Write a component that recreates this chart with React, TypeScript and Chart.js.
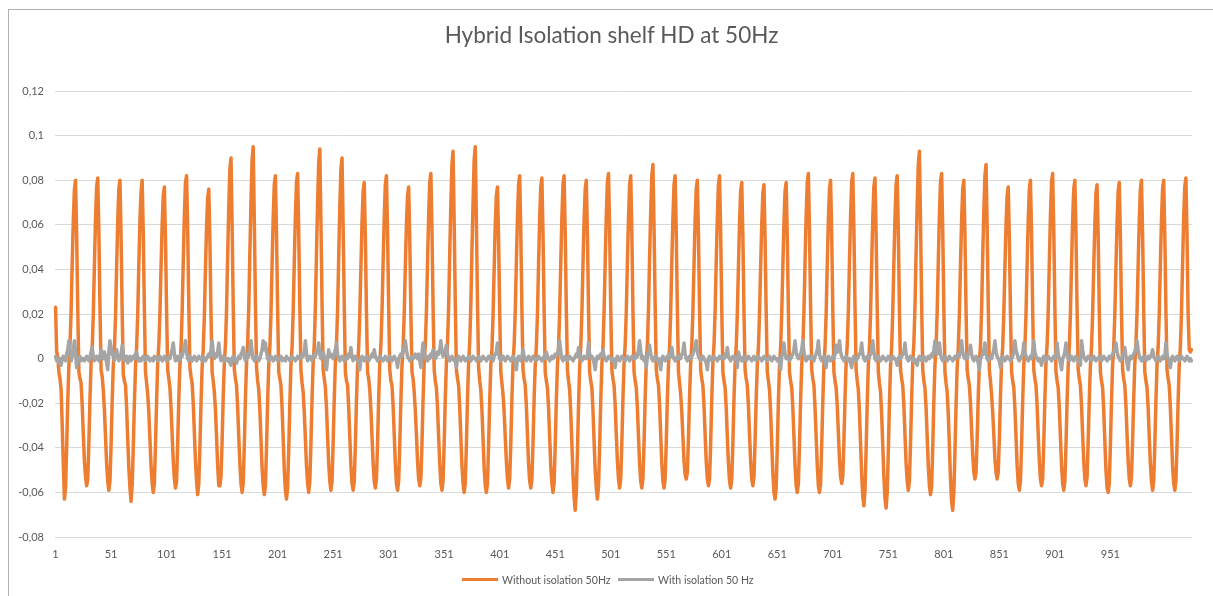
import React, { useEffect, useRef } from 'react';
import { Chart, registerables } from 'chart.js';

Chart.register(...registerables);

const chartTitle = 'Hybrid Isolation shelf HD at 50Hz';
const seriesNames = ['Without isolation 50Hz', 'With isolation 50 Hz'];
const seriesColors = ['#ED7D31', '#A5A5A5'];

// Orange series: acceleration without isolation (one value per sample)
const withoutIsolation = [
  0.023,0.003,0.001,-0.006,-0.009,-0.014,-0.030,-0.048,
  -0.063,-0.058,-0.040,-0.019,-0.003,0.006,0.021,0.043,0.062,0.076,0.080,0.056,0.022,-0.006,-0.009,-0.011,-0.021,-0.034,-0.046,-0.053,
  -0.057,-0.054,-0.038,-0.018,-0.002,0.005,0.020,0.042,0.063,0.077,0.081,0.057,0.023,-0.005,-0.008,-0.014,-0.023,-0.035,-0.047,-0.055,
  -0.059,-0.055,-0.039,-0.019,-0.003,0.004,0.019,0.041,0.062,0.076,0.080,0.055,0.021,-0.007,-0.010,-0.012,-0.022,-0.036,-0.049,-0.058,
  -0.064,-0.057,-0.040,-0.020,-0.004,0.005,0.020,0.042,0.062,0.075,0.080,0.056,0.022,-0.006,-0.011,-0.016,-0.024,-0.036,-0.048,-0.056,
  -0.060,-0.056,-0.039,-0.019,-0.002,0.006,0.020,0.041,0.060,0.073,0.077,0.054,0.021,-0.005,-0.009,-0.013,-0.022,-0.034,-0.046,-0.054,
  -0.058,-0.055,-0.038,-0.018,-0.003,0.005,0.021,0.043,0.064,0.079,0.082,0.058,0.024,-0.004,-0.008,-0.011,-0.020,-0.033,-0.046,-0.055,
  -0.061,-0.056,-0.040,-0.020,-0.004,0.004,0.019,0.040,0.059,0.072,0.076,0.053,0.020,-0.006,-0.010,-0.015,-0.023,-0.035,-0.048,-0.057,
  -0.057,-0.053,-0.037,-0.017,-0.002,0.006,0.022,0.046,0.068,0.085,0.090,0.060,0.024,-0.005,-0.009,-0.012,-0.022,-0.035,-0.047,-0.056,
  -0.060,-0.056,-0.039,-0.018,-0.002,0.007,0.023,0.047,0.070,0.089,0.095,0.062,0.025,-0.004,-0.010,-0.014,-0.023,-0.036,-0.049,-0.057,
  -0.061,-0.057,-0.040,-0.019,-0.003,0.005,0.020,0.042,0.063,0.078,0.082,0.056,0.022,-0.006,-0.009,-0.012,-0.022,-0.036,-0.050,-0.059,
  -0.063,-0.058,-0.041,-0.020,-0.003,0.005,0.021,0.043,0.064,0.079,0.083,0.057,0.023,-0.005,-0.011,-0.015,-0.024,-0.036,-0.048,-0.056,
  -0.060,-0.055,-0.038,-0.018,-0.002,0.006,0.023,0.047,0.070,0.088,0.094,0.061,0.025,-0.005,-0.009,-0.013,-0.022,-0.035,-0.047,-0.055,
  -0.059,-0.055,-0.038,-0.018,-0.002,0.006,0.022,0.045,0.068,0.085,0.090,0.059,0.024,-0.006,-0.010,-0.012,-0.022,-0.035,-0.048,-0.056,
  -0.059,-0.055,-0.039,-0.019,-0.003,0.005,0.020,0.041,0.061,0.075,0.079,0.055,0.021,-0.006,-0.009,-0.014,-0.023,-0.035,-0.047,-0.055,
  -0.058,-0.054,-0.038,-0.018,-0.002,0.006,0.021,0.043,0.063,0.078,0.082,0.057,0.023,-0.005,-0.010,-0.012,-0.021,-0.034,-0.047,-0.056,
  -0.059,-0.055,-0.039,-0.019,-0.003,0.005,0.020,0.041,0.060,0.073,0.077,0.054,0.021,-0.006,-0.009,-0.015,-0.023,-0.034,-0.046,-0.054,
  -0.057,-0.054,-0.038,-0.018,-0.002,0.006,0.021,0.043,0.064,0.079,0.083,0.058,0.023,-0.005,-0.010,-0.013,-0.022,-0.035,-0.047,-0.056,
  -0.059,-0.055,-0.038,-0.018,-0.002,0.007,0.023,0.047,0.069,0.087,0.093,0.061,0.025,-0.005,-0.009,-0.012,-0.022,-0.035,-0.048,-0.056,
  -0.060,-0.056,-0.039,-0.018,-0.002,0.007,0.024,0.048,0.070,0.089,0.095,0.062,0.025,-0.004,-0.010,-0.014,-0.023,-0.036,-0.049,-0.057,
  -0.060,-0.056,-0.039,-0.019,-0.003,0.004,0.019,0.040,0.060,0.073,0.077,0.054,0.021,-0.006,-0.011,-0.016,-0.024,-0.035,-0.046,-0.054,
  -0.058,-0.054,-0.038,-0.018,-0.002,0.006,0.021,0.043,0.063,0.078,0.082,0.057,0.022,-0.005,-0.009,-0.012,-0.021,-0.034,-0.047,-0.055,
  -0.058,-0.054,-0.038,-0.018,-0.003,0.005,0.020,0.042,0.063,0.077,0.081,0.056,0.022,-0.006,-0.010,-0.013,-0.022,-0.035,-0.048,-0.056,
  -0.060,-0.056,-0.039,-0.019,-0.003,0.005,0.021,0.043,0.063,0.078,0.082,0.057,0.022,-0.005,-0.010,-0.014,-0.024,-0.038,-0.052,-0.062,
  -0.068,-0.060,-0.042,-0.021,-0.004,0.005,0.020,0.042,0.062,0.076,0.080,0.056,0.022,-0.006,-0.010,-0.013,-0.023,-0.037,-0.050,-0.058,
  -0.063,-0.057,-0.040,-0.019,-0.003,0.005,0.021,0.043,0.064,0.079,0.083,0.058,0.023,-0.005,-0.009,-0.012,-0.021,-0.034,-0.046,-0.054,
  -0.058,-0.054,-0.038,-0.018,-0.002,0.006,0.021,0.043,0.063,0.078,0.082,0.057,0.022,-0.006,-0.010,-0.013,-0.022,-0.035,-0.047,-0.055,
  -0.058,-0.054,-0.038,-0.018,-0.002,0.006,0.022,0.045,0.066,0.082,0.087,0.059,0.024,-0.005,-0.009,-0.012,-0.021,-0.034,-0.047,-0.055,
  -0.058,-0.054,-0.038,-0.018,-0.003,0.005,0.021,0.043,0.063,0.078,0.082,0.057,0.022,-0.006,-0.011,-0.016,-0.024,-0.035,-0.046,-0.052,
  -0.054,-0.051,-0.036,-0.017,-0.002,0.006,0.021,0.042,0.062,0.076,0.080,0.056,0.022,-0.005,-0.009,-0.012,-0.021,-0.034,-0.046,-0.054,
  -0.057,-0.054,-0.038,-0.018,-0.002,0.006,0.021,0.043,0.063,0.078,0.082,0.057,0.022,-0.006,-0.010,-0.013,-0.022,-0.035,-0.047,-0.055,
  -0.058,-0.054,-0.038,-0.018,-0.003,0.005,0.020,0.041,0.061,0.075,0.079,0.055,0.021,-0.005,-0.009,-0.012,-0.021,-0.034,-0.046,-0.054,
  -0.057,-0.053,-0.037,-0.018,-0.003,0.005,0.020,0.041,0.060,0.074,0.078,0.054,0.021,-0.006,-0.010,-0.014,-0.024,-0.038,-0.051,-0.060,
  -0.063,-0.058,-0.040,-0.019,-0.003,0.005,0.020,0.041,0.061,0.075,0.079,0.055,0.021,-0.006,-0.010,-0.013,-0.022,-0.035,-0.048,-0.057,
  -0.060,-0.056,-0.039,-0.019,-0.003,0.005,0.021,0.043,0.064,0.079,0.083,0.058,0.023,-0.005,-0.009,-0.012,-0.022,-0.035,-0.048,-0.057,
  -0.060,-0.056,-0.039,-0.019,-0.003,0.005,0.020,0.042,0.062,0.076,0.080,0.056,0.022,-0.006,-0.010,-0.013,-0.021,-0.033,-0.045,-0.053,
  -0.056,-0.053,-0.037,-0.018,-0.002,0.006,0.021,0.043,0.064,0.079,0.083,0.058,0.023,-0.005,-0.010,-0.014,-0.024,-0.038,-0.052,-0.062,
  -0.066,-0.059,-0.041,-0.020,-0.003,0.005,0.020,0.042,0.063,0.077,0.081,0.056,0.022,-0.006,-0.011,-0.015,-0.025,-0.039,-0.053,-0.063,
  -0.067,-0.060,-0.042,-0.020,-0.003,0.005,0.021,0.043,0.063,0.078,0.082,0.057,0.022,-0.005,-0.009,-0.012,-0.021,-0.034,-0.047,-0.055,
  -0.059,-0.055,-0.038,-0.018,-0.002,0.007,0.023,0.047,0.069,0.087,0.093,0.061,0.025,-0.005,-0.010,-0.013,-0.022,-0.035,-0.048,-0.057,
  -0.061,-0.057,-0.040,-0.019,-0.003,0.005,0.021,0.043,0.064,0.079,0.083,0.058,0.023,-0.006,-0.011,-0.015,-0.025,-0.039,-0.054,-0.064,
  -0.068,-0.060,-0.042,-0.021,-0.004,0.005,0.020,0.042,0.062,0.076,0.080,0.056,0.022,-0.005,-0.009,-0.012,-0.020,-0.032,-0.043,-0.051,
  -0.054,-0.051,-0.036,-0.017,-0.002,0.006,0.022,0.045,0.066,0.082,0.087,0.059,0.024,-0.005,-0.010,-0.016,-0.024,-0.034,-0.045,-0.051,
  -0.054,-0.051,-0.036,-0.017,-0.002,0.005,0.020,0.041,0.060,0.073,0.077,0.054,0.021,-0.006,-0.010,-0.013,-0.022,-0.035,-0.048,-0.056,
  -0.059,-0.055,-0.039,-0.019,-0.003,0.005,0.020,0.042,0.062,0.076,0.080,0.056,0.022,-0.005,-0.009,-0.012,-0.021,-0.034,-0.046,-0.054,
  -0.057,-0.054,-0.038,-0.018,-0.002,0.006,0.021,0.043,0.064,0.079,0.083,0.058,0.023,-0.006,-0.010,-0.013,-0.022,-0.035,-0.048,-0.056,
  -0.059,-0.055,-0.039,-0.019,-0.003,0.005,0.020,0.042,0.062,0.076,0.080,0.056,0.022,-0.005,-0.009,-0.012,-0.021,-0.034,-0.046,-0.054,
  -0.057,-0.053,-0.037,-0.018,-0.003,0.005,0.020,0.041,0.060,0.074,0.078,0.055,0.021,-0.006,-0.010,-0.013,-0.023,-0.037,-0.050,-0.058,
  -0.060,-0.056,-0.039,-0.019,-0.003,0.005,0.020,0.041,0.061,0.075,0.079,0.055,0.021,-0.005,-0.009,-0.012,-0.021,-0.034,-0.046,-0.054,
  -0.057,-0.053,-0.037,-0.018,-0.002,0.006,0.021,0.042,0.062,0.076,0.080,0.056,0.022,-0.006,-0.010,-0.013,-0.022,-0.035,-0.047,-0.055,
  -0.059,-0.055,-0.039,-0.019,-0.003,0.005,0.020,0.042,0.062,0.076,0.080,0.056,0.022,-0.005,-0.009,-0.012,-0.022,-0.035,-0.048,-0.056,
  -0.059,-0.055,-0.039,-0.019,-0.003,0.005,0.020,0.042,0.063,0.077,0.081,0.056,0.020,0.004,0.003,0.004,
];

// Grey series: acceleration with isolation (one value per sample)
const withIsolation = [
  0.001,-0.001,0.000,-0.002,0.000,-0.003,0.000,0.001,0.000,-0.001,0.002,0.004,0.008,0.002,-0.001,0.001,0.004,0.008,0.003,-0.004,
  -0.001,0.000,0.001,-0.001,0.000,0.000,-0.001,0.000,0.001,0.000,-0.001,0.001,0.003,0.005,0.001,-0.001,0.000,0.001,0.000,-0.001,
  0.001,0.004,0.002,0.000,0.003,0.001,-0.002,-0.005,0.003,0.008,0.005,0.002,0.001,-0.001,0.002,0.004,0.001,-0.001,0.000,0.002,
  0.006,0.002,-0.001,0.000,0.001,-0.002,0.000,0.001,-0.001,0.000,0.001,0.000,0.002,0.003,0.000,-0.001,0.000,-0.001,0.000,0.001,
  0.000,-0.001,0.000,0.001,0.000,-0.001,0.000,0.000,-0.001,0.001,0.000,0.000,-0.001,0.000,0.001,0.000,-0.001,0.000,0.001,0.000,
  -0.001,0.000,0.001,0.000,0.002,0.004,0.007,0.002,-0.001,0.000,0.001,-0.001,0.000,0.002,0.001,0.003,0.005,0.008,0.003,0.000,
  -0.001,0.001,0.000,-0.001,0.000,0.001,0.000,-0.001,0.000,0.001,0.000,0.000,-0.001,0.001,0.000,-0.001,0.000,0.001,0.002,0.001,
  0.004,0.008,0.003,0.000,0.002,0.001,0.003,0.007,0.002,-0.001,0.000,0.001,-0.001,0.000,0.000,-0.001,0.000,-0.002,-0.003,0.000,
  0.001,0.000,-0.001,-0.002,0.000,0.001,0.000,0.002,0.003,0.005,0.001,-0.001,0.000,0.002,0.001,0.004,0.008,0.003,0.000,-0.001,
  0.000,0.001,0.000,-0.001,0.000,0.002,0.004,0.008,0.004,0.007,0.003,0.000,-0.001,0.000,0.001,0.000,-0.001,0.000,0.001,0.000,
  -0.001,0.000,0.000,0.001,-0.001,0.000,0.000,-0.001,0.001,0.000,0.000,-0.001,0.000,0.001,0.000,0.000,-0.001,0.000,0.001,0.000,
  0.000,0.001,0.002,0.001,0.003,0.008,0.002,-0.001,0.000,0.001,0.000,-0.001,0.001,0.002,0.001,0.003,0.004,0.007,0.002,0.000,
  0.001,0.003,0.001,-0.002,-0.005,0.000,0.004,0.001,0.002,0.001,0.000,0.002,0.004,0.007,0.002,0.000,-0.001,0.000,0.001,0.000,
  -0.001,0.000,0.001,0.000,0.002,0.001,0.005,0.001,-0.001,0.000,0.001,0.000,-0.001,-0.002,-0.005,0.000,0.001,0.000,-0.001,0.000,
  0.001,0.000,-0.001,0.000,0.001,0.002,0.001,0.004,0.001,0.000,-0.001,0.000,0.001,0.000,0.000,-0.001,0.000,0.001,0.000,-0.001,
  0.000,0.001,0.000,-0.001,0.000,0.001,0.000,-0.001,-0.004,0.000,0.001,0.002,0.001,0.003,0.005,0.008,0.004,0.001,0.000,-0.001,
  0.000,0.001,0.000,0.001,0.002,0.001,0.000,0.002,-0.001,-0.004,0.002,0.007,0.003,0.001,0.000,-0.001,0.001,0.000,0.002,0.001,
  0.004,0.002,0.000,0.001,0.003,0.002,0.004,0.008,0.003,0.001,0.002,0.004,0.006,0.002,0.000,-0.001,0.000,0.001,0.000,-0.001,
  -0.001,-0.004,0.000,0.001,0.000,-0.001,0.000,0.001,0.000,-0.001,0.000,0.000,0.001,0.000,-0.001,0.000,0.001,0.000,0.000,-0.001,
  0.000,0.001,0.000,-0.001,0.000,0.001,0.000,0.000,-0.001,0.000,0.001,0.000,0.001,0.000,-0.001,0.001,0.002,0.003,0.007,0.002,
  0.000,-0.001,0.000,0.001,0.000,-0.001,0.000,0.001,0.000,0.000,-0.001,0.000,0.001,0.000,-0.002,-0.005,0.000,0.001,0.000,-0.001,
  0.001,0.004,0.001,0.000,-0.001,0.000,0.001,0.000,-0.001,0.000,0.001,0.000,0.000,-0.001,0.000,0.001,0.000,0.000,-0.001,0.000,
  0.001,0.000,0.003,0.001,0.000,-0.001,0.000,0.001,0.000,0.001,0.002,0.001,0.002,0.004,0.008,0.003,0.000,-0.001,0.000,0.001,
  0.000,-0.001,0.000,0.001,0.000,0.000,-0.001,0.000,0.001,0.002,0.001,0.005,0.001,0.000,-0.001,0.000,0.001,0.000,0.000,0.001,
  0.007,0.002,0.000,0.001,0.000,-0.002,-0.005,0.000,0.001,0.000,0.001,0.002,0.001,0.004,0.001,0.000,-0.001,0.000,0.001,0.000,
  0.000,-0.001,0.000,-0.002,-0.004,0.000,0.001,0.000,-0.001,0.000,0.001,0.000,0.000,-0.001,0.000,0.001,0.000,-0.001,0.000,0.001,
  0.000,0.001,0.000,0.002,0.001,0.004,0.008,0.003,0.000,0.001,-0.001,0.000,-0.004,0.001,0.003,0.006,0.002,0.000,-0.001,0.000,
  0.001,0.000,-0.001,0.000,-0.002,-0.005,0.000,0.001,0.000,-0.001,0.000,0.001,0.000,0.002,0.001,0.005,0.001,0.000,-0.001,0.000,
  0.001,0.000,0.001,0.000,0.002,0.003,0.007,0.002,0.000,-0.001,0.000,0.001,0.000,0.001,0.002,0.004,0.005,0.008,0.003,0.001,
  0.000,-0.001,0.000,0.001,0.000,-0.001,-0.002,-0.005,0.000,0.001,0.000,-0.001,0.000,0.001,0.000,0.000,-0.001,0.000,0.001,0.000,
  0.000,0.001,0.000,0.002,0.001,0.005,0.001,0.000,-0.001,0.000,0.001,0.000,0.001,-0.001,-0.004,0.003,0.001,0.000,-0.001,0.000,
  0.001,0.000,-0.001,0.000,0.001,0.000,0.000,-0.001,0.000,0.001,0.000,-0.001,0.000,0.001,0.000,0.000,-0.001,0.000,0.001,0.000,
  0.000,-0.001,0.000,0.001,0.000,-0.001,0.000,0.001,0.000,0.000,-0.001,0.000,-0.002,-0.005,0.001,0.003,0.007,0.002,0.000,0.001,
  0.000,-0.001,0.000,0.001,0.002,0.004,0.008,0.003,0.001,0.000,0.001,0.002,0.004,0.008,0.003,0.000,-0.001,0.000,0.001,0.000,
  0.000,0.001,0.000,-0.001,0.001,0.002,0.004,0.008,0.002,0.000,-0.001,0.000,0.001,-0.001,-0.004,0.000,0.001,0.000,-0.001,0.000,
  0.001,0.000,0.002,0.006,0.003,0.004,0.008,0.003,0.001,0.000,-0.001,0.000,0.001,0.000,-0.001,0.000,-0.002,-0.004,0.000,0.001,
  0.000,-0.001,0.000,0.001,0.002,0.003,0.007,0.002,0.000,-0.001,0.000,0.001,0.000,0.001,0.002,0.004,0.008,0.003,0.000,-0.001,
  0.000,0.001,0.000,-0.001,0.000,0.001,0.000,0.000,-0.001,0.000,0.001,0.000,-0.001,0.000,0.001,0.000,0.000,-0.001,-0.003,0.000,
  0.001,0.000,0.001,0.002,0.003,0.007,0.002,0.000,-0.001,0.000,0.001,0.000,-0.001,0.000,-0.001,-0.002,-0.003,0.000,0.001,0.000,
  -0.001,0.000,0.001,0.000,-0.001,0.000,0.001,0.000,0.001,0.002,0.001,0.004,0.008,0.004,0.002,0.004,0.007,0.002,0.000,-0.001,
  0.000,0.001,0.000,-0.001,0.000,0.001,0.000,0.000,-0.001,0.000,0.001,0.000,0.001,0.002,0.001,0.004,0.008,0.003,0.001,0.000,
  0.001,0.000,0.002,0.003,0.006,0.002,0.000,-0.001,0.000,0.001,0.000,-0.002,-0.005,0.000,0.001,0.002,0.004,0.007,0.002,0.000,
  -0.001,0.000,0.001,0.000,0.002,0.004,0.008,0.003,0.001,0.000,-0.001,-0.004,0.000,0.001,0.000,-0.001,0.000,0.001,0.000,0.000,
  -0.001,0.000,0.001,0.003,0.008,0.004,0.002,0.000,-0.001,0.000,0.001,0.002,0.007,0.003,0.001,0.000,-0.001,0.000,0.001,0.000,
  0.003,0.008,0.003,0.001,0.000,-0.001,0.000,-0.001,-0.003,0.000,0.001,0.000,-0.001,0.000,0.001,0.000,0.000,-0.001,0.000,0.001,
  0.000,0.002,0.007,0.002,0.000,-0.002,-0.005,0.000,0.001,0.003,0.007,0.002,0.000,-0.001,0.000,0.001,0.000,-0.001,0.000,0.001,
  0.000,-0.001,-0.002,-0.003,0.008,0.004,0.001,0.000,-0.001,0.000,0.001,0.000,0.000,-0.001,0.000,0.001,0.000,-0.001,0.000,0.000,
  0.001,0.000,-0.001,0.000,0.001,0.000,0.000,-0.001,0.000,0.001,0.000,0.001,0.002,0.003,0.005,0.007,0.003,0.001,0.000,-0.001,
  0.000,0.001,0.002,0.005,0.001,-0.002,-0.005,0.000,0.001,0.000,0.001,0.002,0.003,0.005,0.008,0.004,0.001,0.000,-0.001,0.000,
  0.001,0.000,-0.001,0.000,0.001,0.000,0.001,0.002,0.004,0.001,0.000,-0.001,0.000,0.001,0.000,-0.001,0.000,0.001,0.000,0.001,
  0.007,0.002,0.000,-0.002,-0.004,0.000,0.001,0.000,-0.001,0.000,0.001,0.000,-0.001,0.000,0.001,0.000,0.000,-0.001,0.000,0.001,
  0.000,-0.001,0.000,-0.001,
];

// Category labels: sample numbers 1..N
const sampleLabels = withoutIsolation.map((_, i) => String(i + 1));
const xLabelStep = 50;
const xLabelLast = 951;
const yMin = -0.08;
const yMax = 0.12;
const yStep = 0.02;

const textColor = '#595959';
const gridColor = '#d9d9d9';
const fontFamily = 'Lato, "Open Sans", sans-serif';

function formatY(v: number): string {
  const r = Math.round(v * 100) / 100;
  if (r === 0) return '0';
  return String(r).replace('.', ',');
}

export default function App() {
  const canvasRef = useRef<HTMLCanvasElement | null>(null);

  useEffect(() => {
    const canvas = canvasRef.current;
    if (!canvas) return;
    const chart = new Chart(canvas, {
      type: 'line',
      data: {
        labels: sampleLabels,
        datasets: [
          {
            label: seriesNames[0],
            data: withoutIsolation,
            borderColor: seriesColors[0],
            backgroundColor: seriesColors[0],
            borderWidth: 3.5,
            pointRadius: 0,
            tension: 0,
            borderJoinStyle: 'round',
            borderCapStyle: 'round',
            order: 1,
          },
          {
            label: seriesNames[1],
            data: withIsolation,
            borderColor: seriesColors[1],
            backgroundColor: seriesColors[1],
            borderWidth: 3.5,
            pointRadius: 0,
            tension: 0,
            borderJoinStyle: 'round',
            borderCapStyle: 'round',
            order: 0,
          },
        ],
      },
      options: {
        responsive: false,
        animation: false,
        events: [],
        layout: { padding: { left: 0, right: 21, top: 91, bottom: 0 } },
        plugins: {
          legend: { display: false },
          title: { display: false },
          tooltip: { enabled: false },
        },
        scales: {
          x: {
            type: 'category',
            offset: true,
            grid: { display: false },
            border: { display: false },
            ticks: {
              autoSkip: false,
              maxRotation: 0,
              minRotation: 0,
              padding: 3,
              color: textColor,
              font: { family: fontFamily, size: 11 },
              callback: (_v: any, i: number) =>
                i % xLabelStep === 0 && i + 1 <= xLabelLast ? sampleLabels[i] : null,
            },
            afterFit: (s: any) => {
              s.height = 59;
            },
          },
          y: {
            min: yMin,
            max: yMax,
            grid: { color: gridColor, lineWidth: 1, drawTicks: false },
            border: { display: false },
            ticks: {
              stepSize: yStep,
              padding: 11,
              color: textColor,
              font: { family: fontFamily, size: 11 },
              callback: (v: any) => formatY(Number(v)),
            },
            afterFit: (s: any) => {
              s.width = 55;
            },
          },
        },
      },
    });
    return () => chart.destroy();
  }, []);

  const legendPos = [
    { swatch: 462, text: 502 },
    { swatch: 618, text: 658 },
  ];

  return (
    <div
      style={{
        position: 'absolute',
        left: 0,
        top: 0,
        width: 1213,
        height: 596,
        background: '#ffffff',
        overflow: 'hidden',
        fontFamily,
      }}
    >
      <div
        style={{
          position: 'absolute',
          left: 8,
          top: 9,
          width: 1213,
          height: 600,
          borderTop: '1px solid #b0b0b0',
          borderLeft: '1px solid #b0b0b0',
        }}
      />
      <canvas
        ref={canvasRef}
        width={1213}
        height={596}
        style={{ position: 'absolute', left: 0, top: 0, width: 1213, height: 596 }}
      />
      <div
        style={{
          position: 'absolute',
          left: 10,
          width: 1203,
          top: 21,
          textAlign: 'center',
          fontSize: 22.5,
          color: textColor,
          lineHeight: '28px',
        }}
      >
        {chartTitle}
      </div>
      {seriesNames.map((name, i) => (
        <React.Fragment key={name}>
          <span
            style={{
              position: 'absolute',
              left: legendPos[i].swatch,
              top: 578,
              width: 36,
              height: 3,
              background: seriesColors[i],
            }}
          />
          <span
            style={{
              position: 'absolute',
              left: legendPos[i].text,
              top: 572,
              fontSize: 10.6,
              color: textColor,
              lineHeight: '16px',
              whiteSpace: 'nowrap',
            }}
          >
            {name}
          </span>
        </React.Fragment>
      ))}
    </div>
  );
}
